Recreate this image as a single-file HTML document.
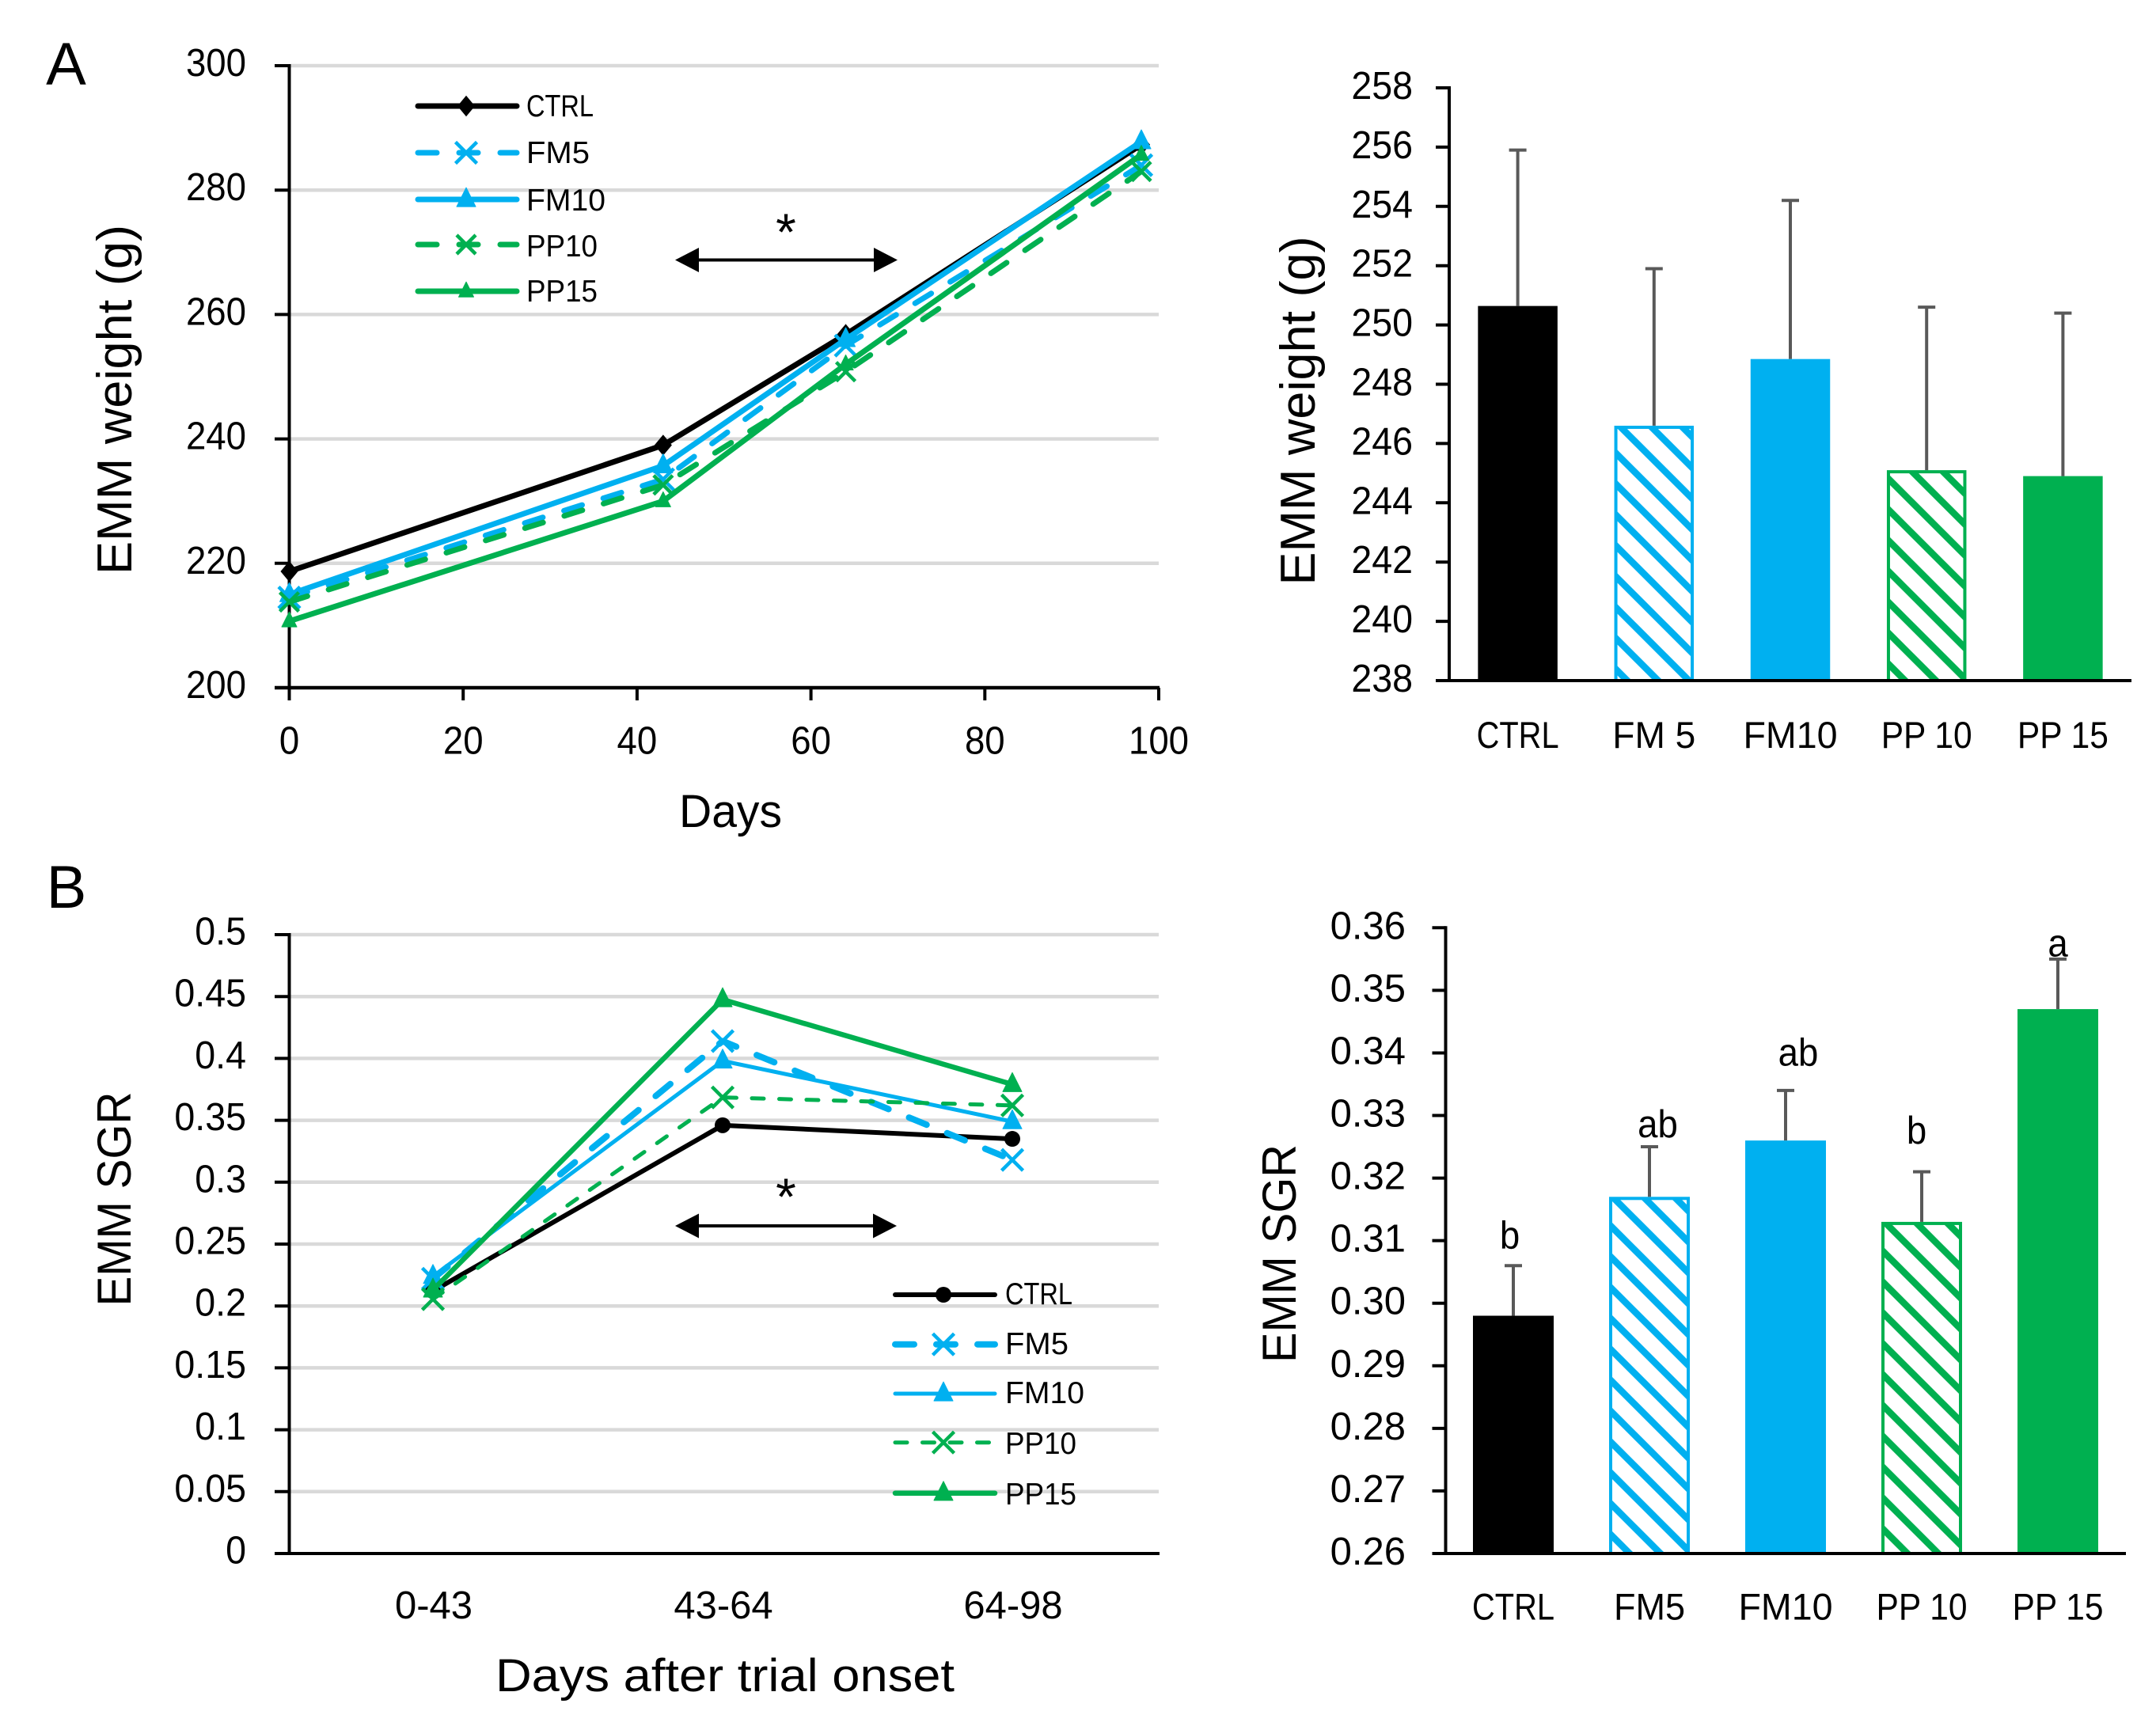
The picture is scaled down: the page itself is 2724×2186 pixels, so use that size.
<!DOCTYPE html>
<html lang="en">
<head>
<meta charset="utf-8">
<title>EMM weight and SGR charts</title>
<style>
html,body{margin:0;padding:0;background:#fff}
svg{display:block}
text{font-family:"Liberation Sans",sans-serif;fill:#000}
</style>
</head>
<body>
<svg id="figure" xmlns="http://www.w3.org/2000/svg" width="2724" height="2186" viewBox="0 0 2724 2186">
  <defs>
    <pattern id="hatch-blue-a" patternUnits="userSpaceOnUse" width="39" height="39" patternTransform="translate(0,13)">
      <path d="M-5,-5L44,44M-5,34L5,44M34,-5L44,5" stroke="#00B0F0" stroke-width="8.5" fill="none"/>
    </pattern>
    <pattern id="hatch-green-a" patternUnits="userSpaceOnUse" width="39" height="39" patternTransform="translate(0,13)">
      <path d="M-5,-5L44,44M-5,34L5,44M34,-5L44,5" stroke="#00B050" stroke-width="8.5" fill="none"/>
    </pattern>
    <pattern id="hatch-blue-b" patternUnits="userSpaceOnUse" width="39" height="39" patternTransform="translate(0,21)">
      <path d="M-5,-5L44,44M-5,34L5,44M34,-5L44,5" stroke="#00B0F0" stroke-width="8.5" fill="none"/>
    </pattern>
    <pattern id="hatch-green-b" patternUnits="userSpaceOnUse" width="39" height="39" patternTransform="translate(0,21)">
      <path d="M-5,-5L44,44M-5,34L5,44M34,-5L44,5" stroke="#00B050" stroke-width="8.5" fill="none"/>
    </pattern>
  </defs>
  <rect width="2724" height="2186" fill="#fff"/>

  <text x="83.5" y="107" font-size="76" text-anchor="middle">A</text>
  <text x="84" y="1147" font-size="76" text-anchor="middle">B</text>

  <g id="weight-line-chart"></g>
  <text transform="translate(166,505) rotate(-90)" font-size="62" text-anchor="middle" textLength="442" lengthAdjust="spacingAndGlyphs">EMM weight (g)</text>
  <text x="923" y="1045" font-size="58" text-anchor="middle" textLength="130" lengthAdjust="spacingAndGlyphs">Days</text>

  <g id="weight-bar-chart"></g>
  <text transform="translate(1661,519) rotate(-90)" font-size="62" text-anchor="middle" textLength="441" lengthAdjust="spacingAndGlyphs">EMM weight (g)</text>

  <g id="sgr-line-chart"></g>
  <text transform="translate(165,1515) rotate(-90)" font-size="60" text-anchor="middle" textLength="271" lengthAdjust="spacingAndGlyphs">EMM SGR</text>
  <text x="916" y="2137" font-size="58" text-anchor="middle" textLength="580" lengthAdjust="spacingAndGlyphs">Days after trial onset</text>

  <g id="sgr-bar-chart"></g>
  <text transform="translate(1637,1584) rotate(-90)" font-size="60" text-anchor="middle" textLength="276" lengthAdjust="spacingAndGlyphs">EMM SGR</text>
</svg>

<script>
// ---- Chart data ----
const weightDays = [0, 43, 64, 98];
const weightCtrl = [218.7, 239.0, 256.8, 287.3];
const weightFm5 = [214.5, 233.5, 255.0, 284.0];
const weightFm10 = [215.0, 235.7, 256.0, 287.8];
const weightPp10 = [213.8, 232.6, 250.8, 283.0];
const weightPp15 = [210.7, 230.0, 252.0, 285.7];
const weightXTicks = [0, 20, 40, 60, 80, 100];
const weightYTicks = [200, 220, 240, 260, 280, 300];

const sgrPeriods = ['0-43', '43-64', '64-98'];
const sgrCtrl = [0.212, 0.346, 0.335];
const sgrFm5 = [0.222, 0.414, 0.318];
const sgrFm10 = [0.224, 0.398, 0.349];
const sgrPp10 = [0.2055, 0.3685, 0.362];
const sgrPp15 = [0.213, 0.4476, 0.379];
const sgrYTicks = ['0', '0.05', '0.1', '0.15', '0.2', '0.25', '0.3', '0.35', '0.4', '0.45', '0.5'];

const seriesNames = ['CTRL', 'FM5', 'FM10', 'PP10', 'PP15'];

const weightBarCategories = ['CTRL', 'FM 5', 'FM10', 'PP 10', 'PP 15'];
const weightBarValues = [250.64, 246.6, 248.85, 245.1, 244.9];
const weightBarErrorTops = [255.9, 251.9, 254.2, 250.6, 250.4];
const weightBarTicks = ['238', '240', '242', '244', '246', '248', '250', '252', '254', '256', '258'];

const sgrBarCategories = ['CTRL', 'FM5', 'FM10', 'PP 10', 'PP 15'];
const sgrBarValues = [0.298, 0.317, 0.326, 0.313, 0.347];
const sgrBarErrorTops = [0.306, 0.325, 0.334, 0.321, 0.355];
const sgrBarLetters = ['b', 'ab', 'ab', 'b', 'a'];
const sgrBarTicks = ['0.26', '0.27', '0.28', '0.29', '0.30', '0.31', '0.32', '0.33', '0.34', '0.35', '0.36'];

// ---- Helpers ----
const SVG_NS = 'http://www.w3.org/2000/svg';
const BLACK = '#000000', BLUE = '#00B0F0', GREEN = '#00B050', GRID = '#D9D9D9', ERR = '#595959';

function mk(parent, tag, attrs) {
  const el = document.createElementNS(SVG_NS, tag);
  for (const k in attrs) el.setAttribute(k, attrs[k]);
  parent.appendChild(el);
  return el;
}
function writeText(parent, str, x, y, size, anchor, fitRatio, fitWidth) {
  const el = mk(parent, 'text', { x: x, y: y, 'font-size': size, 'text-anchor': anchor });
  el.textContent = str;
  let w = fitWidth;
  if (!w && fitRatio) w = el.getComputedTextLength() * fitRatio;
  if (w) {
    el.setAttribute('textLength', w);
    el.setAttribute('lengthAdjust', 'spacingAndGlyphs');
  }
  return el;
}
function drawMarker(parent, kind, cx, cy, size, color) {
  if (kind === 'diamond') {
    return mk(parent, 'path', { d: `M${cx},${cy - size * 0.55}L${cx + size * 0.46},${cy}L${cx},${cy + size * 0.55}L${cx - size * 0.46},${cy}Z`, fill: color });
  }
  if (kind === 'circle') {
    return mk(parent, 'circle', { cx: cx, cy: cy, r: size / 2, fill: color });
  }
  if (kind === 'triangle') {
    return mk(parent, 'path', { d: `M${cx},${cy - size * 0.62}L${cx + size * 0.5},${cy + size * 0.38}L${cx - size * 0.5},${cy + size * 0.38}Z`, fill: color, stroke: color, 'stroke-width': 1, 'stroke-linejoin': 'round' });
  }
  const h = size / 2;
  return mk(parent, 'path', { d: `M${cx - h},${cy - h}L${cx + h},${cy + h}M${cx - h},${cy + h}L${cx + h},${cy - h}`, stroke: color, 'stroke-width': 4.5, fill: 'none' });
}
function polyPath(xs, ys) {
  return xs.map((x, i) => (i ? 'L' : 'M') + x.toFixed(1) + ',' + ys[i].toFixed(1)).join('');
}
function drawLine(parent, x1, y1, x2, y2, color, width) {
  return mk(parent, 'line', { x1: x1, y1: y1, x2: x2, y2: y2, stroke: color, 'stroke-width': width });
}
function drawDoubleArrow(parent, x1, x2, y) {
  const g = mk(parent, 'g', {});
  drawLine(g, x1 + 20, y, x2 - 20, y, BLACK, 4);
  mk(g, 'path', { d: `M${x1},${y}L${x1 + 30},${y - 15.5}L${x1 + 30},${y + 15.5}Z`, fill: BLACK });
  mk(g, 'path', { d: `M${x2},${y}L${x2 - 30},${y - 15.5}L${x2 - 30},${y + 15.5}Z`, fill: BLACK });
  return g;
}

// ---- Layout constants (style only) ----
const LEFT_X0 = 365.5, LEFT_X1 = 1464;
const LABEL_WIDTHS = { 'CTRL': 104, 'FM 5': 105, 'FM5': 90, 'FM10': 119, 'PP 10': 115, 'PP 15': 115 };
const LEGEND_TEXT_WIDTHS = { 'CTRL': 85, 'FM5': 80, 'FM10': 100, 'PP10': 90, 'PP15': 90 };

// ---- Panel A, line chart ----
(function () {
  const root = document.getElementById('weight-line-chart');
  const xScale = v => LEFT_X0 + (v / 100) * (LEFT_X1 - LEFT_X0);
  const yScale = v => 869 - (v - 200) * 7.86;

  weightYTicks.forEach(t => {
    if (t !== 200) {
      const gl = drawLine(root, LEFT_X0, yScale(t), LEFT_X1, yScale(t), GRID, 4.5);
      
      
    }
    const tk = drawLine(root, 347, yScale(t), LEFT_X0, yScale(t), BLACK, 4);
    
    
    const lb = writeText(root, String(t), 311, yScale(t) + 13, 49, 'end', 0.93);
    
    
  });
  weightXTicks.forEach(t => {
    const tk = drawLine(root, xScale(t), 869, xScale(t), 885, BLACK, 4);
    
    
    const lb = writeText(root, String(t), xScale(t), 952.5, 49, 'middle', 0.93);
    
    
  });
  const yAxis = drawLine(root, LEFT_X0, 81, LEFT_X0, 871, BLACK, 4);
  
  
  const xAxis = drawLine(root, 347, 869, LEFT_X1 + 1, 869, BLACK, 4.5);
  
  

  const styles = [
    { values: weightCtrl, color: BLACK, width: 7, dash: null, kind: 'diamond', size: 24 },
    { values: weightFm5, color: BLUE, width: 7, dash: '24 28', kind: 'x', size: 27 },
    { values: weightFm10, color: BLUE, width: 7, dash: null, kind: 'triangle', size: 24 },
    { values: weightPp10, color: GREEN, width: 7, dash: '24 28', kind: 'x', size: 24 },
    { values: weightPp15, color: GREEN, width: 7, dash: null, kind: 'triangle', size: 19 }
  ];
  const legendY = [134, 193, 252, 309, 368];
  const legendBase = [147, 206, 266, 324, 381];

  styles.forEach((s, i) => {
    const name = seriesNames[i].toLowerCase();
    const xs = weightDays.map(xScale);
    const ys = s.values.map(yScale);
    const line = mk(root, 'path', { d: polyPath(xs, ys), fill: 'none', stroke: s.color, 'stroke-width': s.width, 'stroke-linecap': 'round', 'stroke-linejoin': 'round' });
    if (s.dash) line.setAttribute('stroke-dasharray', s.dash);
    
    
    xs.forEach((x, j) => {
      const m = drawMarker(root, s.kind, x, ys[j], s.size, s.color);
      
      
    });

    const entry = mk(root, 'g', {});
    
    
    const ll = mk(entry, 'line', { x1: 528, y1: legendY[i], x2: 653, y2: legendY[i], stroke: s.color, 'stroke-width': s.width, 'stroke-linecap': 'round' });
    if (s.dash) ll.setAttribute('stroke-dasharray', s.dash);
    
    
    const lm = drawMarker(entry, s.kind, 589, legendY[i], s.size, s.color);
    
    
    const lt = writeText(entry, seriesNames[i], 665, legendBase[i], 39, 'start', null, LEGEND_TEXT_WIDTHS[seriesNames[i]]);
    
    
  });

  const ar = drawDoubleArrow(root, 853, 1134, 328.5);
  
  
  const st = writeText(root, '*', 993, 316, 66, 'middle');
  
  
})();

// ---- Panel B, line chart ----
(function () {
  const root = document.getElementById('sgr-line-chart');
  const xScale = i => 364 + (i + 0.5) * 366;
  const yScale = v => 1963 - v * 1564;

  sgrYTicks.forEach(t => {
    const v = parseFloat(t);
    if (v !== 0) {
      const gl = drawLine(root, LEFT_X0, yScale(v), LEFT_X1, yScale(v), GRID, 4.5);
      
      
    }
    const tk = drawLine(root, 347, yScale(v), LEFT_X0, yScale(v), BLACK, 4);
    
    
    const lb = writeText(root, t, 311, yScale(v) + 12.5, 49, 'end', 0.95);
    
    
  });
  const yAxis = drawLine(root, LEFT_X0, 1179, LEFT_X0, 1965, BLACK, 4);
  
  
  const xAxis = drawLine(root, 347, 1963, LEFT_X1 + 1, 1963, BLACK, 4);
  
  

  sgrPeriods.forEach((p, i) => {
    const lb = writeText(root, p, xScale(i) + 1, 2045, 49, 'middle');
    
    
  });

  const styles = [
    { values: sgrCtrl, color: BLACK, width: 6, dash: null, kind: 'circle', size: 20 },
    { values: sgrFm5, color: BLUE, width: 8, dash: '24 28', kind: 'x', size: 27 },
    { values: sgrFm10, color: BLUE, width: 5, dash: null, kind: 'triangle', size: 24 },
    { values: sgrPp10, color: GREEN, width: 5, dash: '15 19.5', kind: 'x', size: 27 },
    { values: sgrPp15, color: GREEN, width: 6.5, dash: null, kind: 'triangle', size: 24 }
  ];
  const legendY = [1636, 1698.7, 1761, 1822.7, 1886.7];
  const legendBase = [1648, 1711, 1773, 1837, 1901];

  styles.forEach((s, i) => {
    const name = seriesNames[i].toLowerCase();
    const xs = s.values.map((_, j) => xScale(j));
    const ys = s.values.map(yScale);
    const line = mk(root, 'path', { d: polyPath(xs, ys), fill: 'none', stroke: s.color, 'stroke-width': s.width, 'stroke-linecap': 'round', 'stroke-linejoin': 'round' });
    if (s.dash) line.setAttribute('stroke-dasharray', s.dash);
    
    
    xs.forEach((x, j) => {
      const m = drawMarker(root, s.kind, x, ys[j], s.size, s.color);
      
      
    });

    const entry = mk(root, 'g', {});
    
    
    const ll = mk(entry, 'line', { x1: 1131, y1: legendY[i], x2: 1257, y2: legendY[i], stroke: s.color, 'stroke-width': s.width, 'stroke-linecap': 'round' });
    if (s.dash) ll.setAttribute('stroke-dasharray', s.dash);
    
    
    const lm = drawMarker(entry, s.kind, 1192, legendY[i], s.size, s.color);
    
    
    const lt = writeText(entry, seriesNames[i], 1270, legendBase[i], 39, 'start', null, LEGEND_TEXT_WIDTHS[seriesNames[i]]);
    
    
  });

  const ar = drawDoubleArrow(root, 853, 1133, 1549);
  
  
  const st = writeText(root, '*', 993, 1535, 66, 'middle');
  
  
})();

// ---- Bar charts ----
function drawBarChart(cfg) {
  const root = document.getElementById(cfg.rootId);
  const xCenter = i => cfg.axisX + (i + 0.5) * cfg.step;
  const yScale = cfg.yScale;
  const fills = [BLACK, 'url(#hatch-blue-' + cfg.hatch + ')', BLUE, 'url(#hatch-green-' + cfg.hatch + ')', GREEN];
  const strokes = [BLACK, BLUE, BLUE, GREEN, GREEN];
  const barW = cfg.barWidth;

  cfg.values.forEach((v, i) => {
    const cx = xCenter(i) + cfg.barShift;
    const top = yScale(v);
    const bar = mk(root, 'rect', {
      x: cx - barW / 2 + 2, y: top + 2, width: barW - 4, height: cfg.axisBottom - top - 2,
      fill: fills[i], stroke: strokes[i], 'stroke-width': 4
    });
    
    
    const errTop = yScale(cfg.errorTops[i]);
    const stem = drawLine(root, cx, top, cx, errTop, ERR, 4);
    
    
    const cap = drawLine(root, cx - 11, errTop, cx + 11, errTop, ERR, 4);
    
    
    const lb = writeText(root, cfg.categories[i], cx + cfg.labelShift, cfg.labelBase, 47, 'middle', null, LABEL_WIDTHS[cfg.categories[i]]);
    
    
  });

  cfg.ticks.forEach(t => {
    const y = yScale(parseFloat(t));
    const tk = drawLine(root, cfg.axisX - 17, y, cfg.axisX, y, BLACK, 4);
    
    
    const lb = writeText(root, t, cfg.tickRight, y + 14, 49, 'end', cfg.tickFit);
    
    
  });
  const yAxis = drawLine(root, cfg.axisX, yScale(parseFloat(cfg.ticks[cfg.ticks.length - 1])) - 2, cfg.axisX, cfg.axisBottom + 2, BLACK, 4);
  
  
  const xAxis = drawLine(root, cfg.axisX - 17, cfg.axisBottom, cfg.axisRight, cfg.axisBottom, BLACK, 4);
  
  
  return root;
}

drawBarChart({
  rootId: 'weight-bar-chart',
  hatch: 'a',
  categories: weightBarCategories,
  values: weightBarValues,
  errorTops: weightBarErrorTops,
  ticks: weightBarTicks,
  yScale: v => 860 - (v - 238) * 37.45,
  axisX: 1831, axisBottom: 860, axisRight: 2693, step: 172.2,
  barWidth: 100.5, barShift: 0.5, labelShift: 0, labelBase: 945, tickRight: 1785, tickFit: 0.95
});

const sgrRoot = drawBarChart({
  rootId: 'sgr-bar-chart',
  hatch: 'b',
  categories: sgrBarCategories,
  values: sgrBarValues,
  errorTops: sgrBarErrorTops,
  ticks: sgrBarTicks,
  yScale: v => 1963 - (v - 0.26) * 7907,
  axisX: 1826.5, axisBottom: 1963, axisRight: 2686, step: 172,
  barWidth: 102, barShift: -0.5, labelShift: 0, labelBase: 2046.5, tickRight: 1776, tickFit: 1
});

// Significance letters sit a fixed distance above each error bar
const sgrLetterX = i => 1826.5 + (i + 0.5) * 172;
const letterShift = [-5, 10, 15.5, -7, -0.5];
const letterGap = [22, 12, 31.5, 35.5, 3.5];
sgrBarLetters.forEach((s, i) => {
  const errY = 1963 - (sgrBarErrorTops[i] - 0.26) * 7907;
  const el = writeText(sgrRoot, s, sgrLetterX(i) + letterShift[i], errY - letterGap[i], 49, 'middle', 0.93);
  
  
});
</script>
</body>
</html>
